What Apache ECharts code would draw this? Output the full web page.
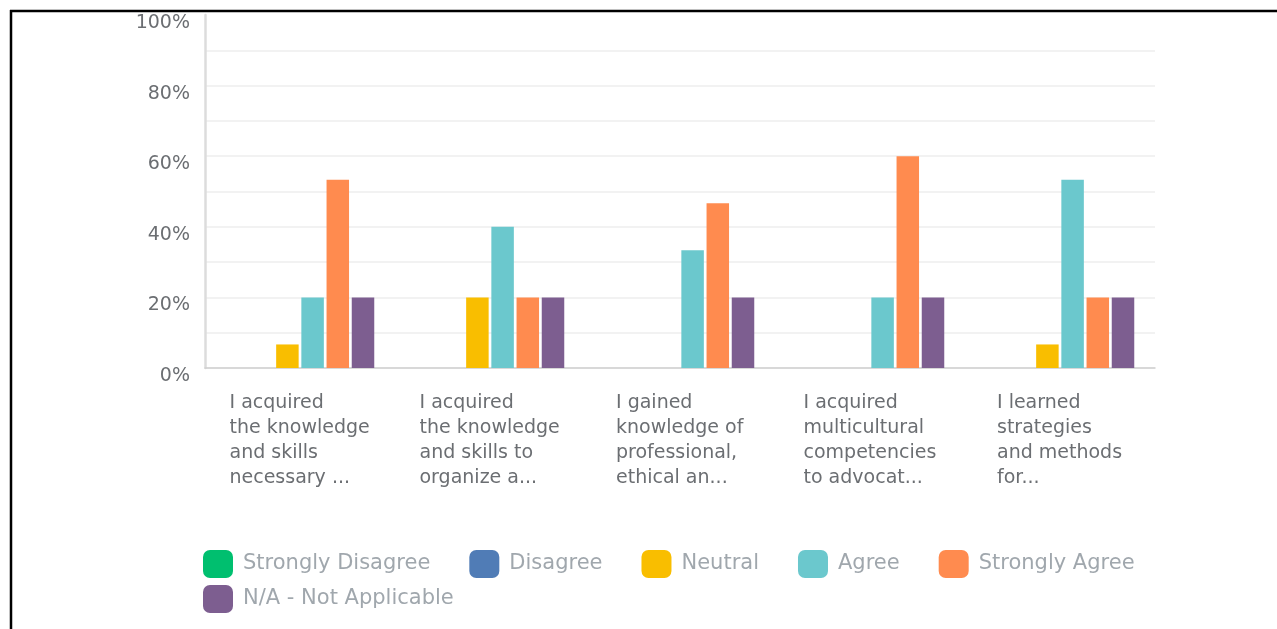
<!DOCTYPE html>
<html>
<head>
<meta charset="utf-8">
<script src="https://cdn.jsdelivr.net/npm/echarts@6/dist/echarts.min.js"></script>
<style>
html,body{margin:0;padding:0;background:#fff;}
#chart{width:1277px;height:629px;}
</style>
</head>
<body>
<div id="chart"></div>
<script>
const categories = [
  "I acquired\nthe knowledge\nand skills\nnecessary ...",
  "I acquired\nthe knowledge\nand skills to\norganize a...",
  "I gained\nknowledge of\nprofessional,\nethical an...",
  "I acquired\nmulticultural\ncompetencies\nto advocat...",
  "I learned\nstrategies\nand methods\nfor..."
];
const seriesNames = ["Strongly Disagree", "Disagree", "Neutral", "Agree", "Strongly Agree", "N/A - Not Applicable"];
const stronglyDisagree = [0, 0, 0, 0, 0];
const disagree = [0, 0, 0, 0, 0];
const neutral = [6.67, 20, 0, 0, 6.67];
const agree = [20, 40, 33.33, 20, 53.33];
const stronglyAgree = [53.33, 20, 46.67, 60, 20];
const notApplicable = [20, 20, 20, 20, 20];
const yTicks = [0, 20, 40, 60, 80, 100];

const colors = ["#00bf6f", "#507cb6", "#f9be00", "#6bc8cd", "#ff8b4f", "#7d5e90"];
const seriesData = [stronglyDisagree, disagree, neutral, agree, stronglyAgree, notApplicable];

const labelFont = '19px "DejaVu Sans"';
const cvs = document.createElement('canvas').getContext('2d');
cvs.font = labelFont;
const rich = {};
categories.forEach((c, i) => {
  const w = Math.max(...c.split('\n').map(l => cvs.measureText(l).width));
  rich['c' + i] = {width: Math.ceil(w), align: 'left', lineHeight: 25, fontSize: 19, fontFamily: 'DejaVu Sans', color: '#6b6e72'};
});

const legendBase = {
  orient: 'horizontal',
  icon: 'roundRect', itemWidth: 30, itemHeight: 28, itemGap: 39,
  textStyle: {fontSize: 21, fontFamily: 'DejaVu Sans', color: '#a0a7ad', padding: [0, 0, 0, 5]}
};

const chart = echarts.init(document.getElementById('chart'), null, {renderer: 'canvas'});
chart.setOption({
  animation: false,
  backgroundColor: '#fff',
  color: colors,
  graphic: [
    {type: 'line', shape: {x1: 10, y1: 11, x2: 1277, y2: 11}, style: {stroke: '#000', lineWidth: 2.5}},
    {type: 'line', shape: {x1: 11, y1: 10, x2: 11, y2: 629}, style: {stroke: '#000', lineWidth: 2.5}}
  ],
  grid: {left: 205, right: 122, top: 15, bottom: 261, containLabel: false},
  legend: [
    Object.assign({data: seriesNames.slice(0, 5), left: 198, top: 545}, legendBase),
    Object.assign({data: seriesNames.slice(5), left: 198, top: 580}, legendBase)
  ],
  xAxis: {
    type: 'category',
    data: categories,
    axisLine: {show: true, lineStyle: {color: '#cfcfcf', width: 1.5}},
    axisTick: {show: false},
    axisLabel: {
      interval: 0,
      margin: 23,
      align: 'center',
      formatter: (v, i) => v.split('\n').map(l => '{c' + i + '|' + l + '}').join('\n'),
      rich: rich
    }
  },
  yAxis: {
    type: 'value',
    min: 0, max: 100, interval: 20,
    axisLine: {show: true, lineStyle: {color: '#dcdcdc', width: 2.5}},
    axisTick: {show: false},
    minorTick: {show: false, splitNumber: 2},
    splitLine: {show: true, showMaxLine: false, lineStyle: {color: '#eeeeee', width: 1.5}},
    minorSplitLine: {show: true, lineStyle: {color: '#eeeeee', width: 1.5}},
    axisLabel: {
      margin: 15,
      fontSize: 19,
      fontFamily: 'DejaVu Sans',
      color: '#6b6e72',
      verticalAlign: 'top',
      lineHeight: 16,
      formatter: v => yTicks.includes(v) ? v + '%' : ''
    }
  },
  series: seriesNames.map((n, i) => ({
    name: n,
    type: 'bar',
    data: seriesData[i],
    barWidth: 22.5,
    barGap: '12%',
    itemStyle: {color: colors[i]}
  }))
});
</script>
</body>
</html>
